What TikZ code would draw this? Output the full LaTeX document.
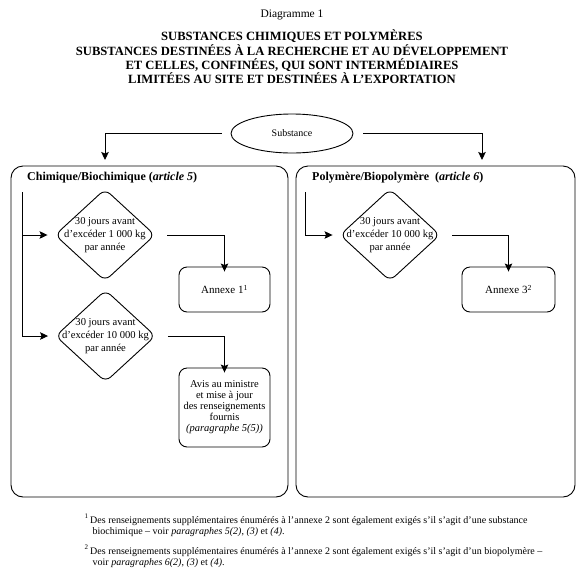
\documentclass[tikz,border=0pt]{standalone}
\usepackage{fontspec}
\setmainfont{Liberation Serif}
\usetikzlibrary{shapes.geometric,arrows.meta}
\begin{document}
\begin{tikzpicture}[x=1pt,y=-1pt,
 arr/.style={line width=0.9pt,-{Stealth[length=8pt,width=7.5pt,inset=1.5pt]}},
 dia/.style={draw,line width=0.9pt,diamond,minimum width=100pt,minimum height=92pt,inner sep=0pt,rounded corners=7pt},
 rbox/.style={draw,line width=0.9pt,rounded corners=8pt,inner sep=0pt,align=center,font=\fontsize{10.5}{11}\selectfont},
 big/.style={draw,line width=0.9pt,rounded corners=12pt,inner sep=0pt},
 dtxt/.style={font=\fontsize{10.6}{13}\selectfont,align=center,inner sep=0pt},
 btitle/.style={font=\fontsize{12}{13}\selectfont\bfseries,anchor=west,inner sep=0pt},
 fn/.style={font=\fontsize{10}{11}\selectfont,anchor=base west,inner sep=0pt},
 fnsup/.style={font=\fontsize{7}{8}\selectfont,anchor=base west,inner sep=0pt},
]
\useasboundingbox (0,0) rectangle (584,582);
% titles
\node[font=\fontsize{11.5}{14}\selectfont,inner sep=0pt] (t0) at (292,15) {Diagramme 1};
\node[font=\fontsize{12.6}{14.3}\selectfont\bfseries,align=center,inner sep=0pt] (t1) at (292,57)
 {SUBSTANCES CHIMIQUES ET POLYMÈRES\\SUBSTANCES DESTINÉES À LA RECHERCHE ET AU DÉVELOPPEMENT\\ET CELLES, CONFINÉES, QUI SONT INTERMÉDIAIRES\\LIMITÉES AU SITE ET DESTINÉES À L’EXPORTATION};
% start ellipse
\node[draw,line width=0.9pt,ellipse,minimum width=122pt,minimum height=39pt,inner sep=0pt,font=\fontsize{10}{11}\selectfont] (S) at (292,133.5) {Substance};
% big boxes
\node[big,minimum width=277pt,minimum height=331pt] (L) at (149.5,331.5) {};
\node[big,minimum width=279pt,minimum height=331pt] (R) at (435.5,331.5) {};
\node[btitle] (Lt) at (27,178) {Chimique/Biochimique (\textit{article 5})};
\node[btitle] (Rt) at (312,178) {Polymère/Biopolymère~~(\textit{article 6})};
\coordinate (aL) at (105,160);
\coordinate (aR) at (482,160);
\draw[arr] ([xshift=-9pt]S.west) -| (aL);
\draw[arr] ([xshift=10pt]S.east) -| (aR);
% left column
\node[dia] (D1) at (105,235) {};
\node[dtxt] (D1t) at (D1.center) {30 jours avant\\d’excéder 1~000~kg\\par année};
\node[dia] (D2) at (105.5,336) {};
\node[dtxt] (D2t) at (D2.center) {30 jours avant\\d’excéder 10~000~kg\\par année};
\node[rbox,minimum width=91pt,minimum height=45pt,font=\fontsize{11}{12}\selectfont] (A1) at (224.5,289.5) {Annexe 1\textsuperscript{1}};
\node[rbox,minimum width=91pt,minimum height=79pt] (A2) at (224.5,407.5) {Avis au ministre\\et mise à jour\\des renseignements\\fournis\\\textit{(paragraphe 5(5))}};
\coordinate (v1) at (22,192);
\draw[arr,shorten >=7pt] (v1) |- (D1.west);
\draw[arr,shorten >=7pt] (v1) |- (D2.west);
\draw[arr] ([xshift=12pt]D1.east) -| ([yshift=-5pt]A1.north);
\draw[arr] ([xshift=12pt]D2.east) -| ([yshift=-5pt]A2.north);
% right column
\node[dia] (D3) at (390,235) {};
\node[dtxt] (D3t) at (D3.center) {30 jours avant\\d’excéder 10~000~kg\\par année};
\node[rbox,minimum width=93pt,minimum height=45pt,font=\fontsize{11}{12}\selectfont] (A3) at (508.5,289.5) {Annexe 3\textsuperscript{2}};
\coordinate (v2) at (305,192);
\draw[arr,shorten >=7pt] (v2) |- (D3.west);
\draw[arr] ([xshift=12pt]D3.east) -| ([yshift=-5pt]A3.north);
% footnotes
\node[fnsup] (f1s) at (84.5,518) {1};
\node[fn] (f1a) at (90,523.5) {Des renseignements supplémentaires énumérés à l’annexe 2 sont également exigés s’il s’agit d’une substance};
\node[fn] (f1b) at (92.5,534.5) {biochimique – voir \textit{paragraphes 5(2)}, \textit{(3)} et \textit{(4)}.};
\node[fnsup] (f2s) at (84.5,549) {2};
\node[fn] (f2a) at (90,554.5) {Des renseignements supplémentaires énumérés à l’annexe 2 sont également exigés s’il s’agit d’un biopolymère –};
\node[fn] (f2b) at (92.5,565.5) {voir \textit{paragraphes 6(2)}, \textit{(3)} et \textit{(4)}.};
\end{tikzpicture}
\end{document}
